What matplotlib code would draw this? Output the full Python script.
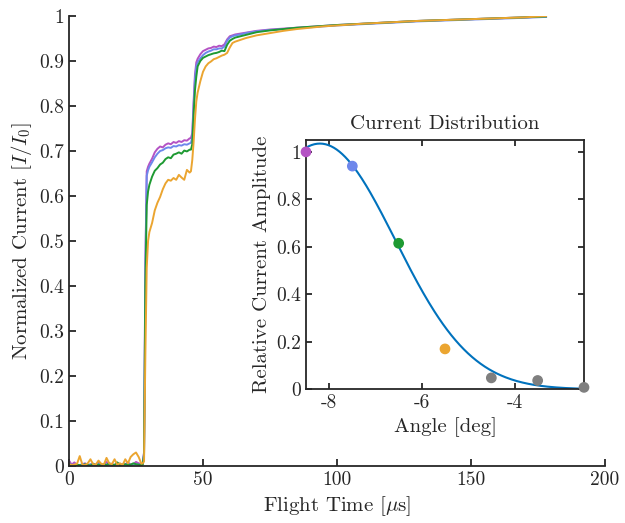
import numpy as np
import matplotlib
matplotlib.use("Agg")
import matplotlib.pyplot as plt
from matplotlib.ticker import FixedLocator, FixedFormatter

plt.rcParams['font.family'] = ['cmr10', 'DejaVu Serif']
plt.rcParams['mathtext.fontset'] = 'cm'
plt.rcParams['axes.unicode_minus'] = False
plt.rcParams['axes.formatter.use_mathtext'] = False

# ---- main traces: flight time [us] and normalized current ----
t_us = [0, 1, 2, 3, 4, 5, 6, 7, 8, 9, 10, 11, 12, 13, 14, 15, 16, 17, 18, 19,
        20, 21, 22, 23, 24, 25, 26, 27,
        27.5, 28, 28.5, 29, 29.5, 30,
        31, 32, 33, 34, 35, 36, 37, 38, 39, 40, 41, 42, 43, 44, 45,
        45.5, 46, 46.5, 47, 47.5, 48,
        49, 50, 51, 52, 53, 54, 55, 56, 57, 58, 59, 60, 61, 62,
        64, 66, 68, 70,
        75, 80, 85, 90, 95, 100, 110, 120, 130, 140, 150, 160, 170, 178]

purple = [0.012, 0.003, 0.008, 0.002, 0.001, 0.004, 0.006, 0.002, 0.003, 0.005,
          0.002, 0.008, 0.004, 0.002, 0.009, 0.003, 0.005, 0.002, 0.007, 0.004,
          0.003, 0.004, 0.008, 0.003, 0.004, 0.009, 0.006, 0.004,
          0.005, 0.03, 0.45, 0.655, 0.665, 0.672,
          0.683, 0.697, 0.705, 0.710, 0.708, 0.714, 0.717, 0.715, 0.720, 0.718,
          0.722, 0.720, 0.724, 0.723, 0.728,
          0.729, 0.740, 0.810, 0.870, 0.897, 0.905,
          0.915, 0.922, 0.925, 0.928, 0.929, 0.932, 0.931, 0.934, 0.933, 0.937,
          0.948, 0.955, 0.957, 0.959,
          0.961, 0.963, 0.965, 0.967,
          0.970, 0.972, 0.974, 0.976, 0.978, 0.980, 0.983, 0.986, 0.989, 0.991,
          0.993, 0.995, 0.997, 0.999]

blue = [0.006, 0.002, 0.003, 0.001, 0.002, 0.004, 0.003, 0.001, 0.004, 0.002,
        0.003, 0.005, 0.002, 0.001, 0.004, 0.002, 0.003, 0.001, 0.004, 0.002,
        0.002, 0.003, 0.005, 0.002, 0.003, 0.004, 0.003, 0.002,
        0.004, 0.03, 0.44, 0.645, 0.657, 0.665,
        0.675, 0.686, 0.694, 0.700, 0.702, 0.706, 0.708, 0.707, 0.711, 0.710,
        0.713, 0.712, 0.715, 0.714, 0.717,
        0.718, 0.730, 0.800, 0.860, 0.888, 0.897,
        0.906, 0.913, 0.918, 0.921, 0.923, 0.926, 0.926, 0.928, 0.928, 0.932,
        0.945, 0.952, 0.955, 0.957,
        0.959, 0.962, 0.964, 0.966,
        0.969, 0.971, 0.973, 0.975, 0.977, 0.979, 0.982, 0.985, 0.988, 0.990,
        0.992, 0.994, 0.996, 0.998]

green = [0.004, 0.002, 0.001, 0.003, 0.002, 0.001, 0.004, 0.002, 0.001, 0.005,
         0.002, 0.003, 0.001, 0.004, 0.002, 0.006, 0.003, 0.002, 0.008, 0.002,
         0.003, 0.004, 0.002, 0.003, 0.006, 0.004, 0.003, 0.002,
         0.003, 0.025, 0.40, 0.580, 0.610, 0.625,
         0.643, 0.656, 0.662, 0.670, 0.674, 0.682, 0.686, 0.684, 0.692, 0.694,
         0.697, 0.694, 0.701, 0.699, 0.703,
         0.703, 0.715, 0.780, 0.835, 0.865, 0.888,
         0.900, 0.907, 0.910, 0.913, 0.915, 0.917, 0.918, 0.920, 0.923, 0.922,
         0.936, 0.945, 0.949, 0.952,
         0.955, 0.958, 0.961, 0.964,
         0.968, 0.971, 0.974, 0.976, 0.978, 0.980, 0.983, 0.986, 0.989, 0.991,
         0.993, 0.995, 0.997, 0.999]

orange = [0.004, 0.002, 0.003, 0.005, 0.022, 0.003, 0.002, 0.006, 0.015, 0.004,
          0.003, 0.012, 0.005, 0.003, 0.018, 0.006, 0.004, 0.015, 0.003, 0.006,
          0.002, 0.015, 0.006, 0.020, 0.026, 0.030, 0.020, 0.005,
          0.006, 0.010, 0.25, 0.440, 0.500, 0.520,
          0.540, 0.568, 0.585, 0.598, 0.615, 0.628, 0.636, 0.634, 0.640, 0.636,
          0.647, 0.641, 0.636, 0.658, 0.652,
          0.655, 0.680, 0.720, 0.770, 0.810, 0.830,
          0.855, 0.876, 0.888, 0.895, 0.899, 0.904, 0.906, 0.909, 0.912, 0.914,
          0.918, 0.930, 0.940, 0.943,
          0.947, 0.951, 0.954, 0.957,
          0.962, 0.967, 0.971, 0.974, 0.977, 0.979, 0.983, 0.986, 0.989, 0.991,
          0.993, 0.995, 0.997, 1.000]

# ---- inset: relative amplitude vs angle ----
angle_deg = [-8.5, -7.5, -6.5, -5.5, -4.5, -3.5, -2.5]
rel_amp = [1.0, 0.94, 0.615, 0.17, 0.048, 0.037, 0.008]
# gaussian fit parameters (amplitude, centre, width)
fit_amp, fit_mu, fit_sigma = 1.035, -8.2, 1.63

c_purple = '#B452C4'
c_blue = '#6E87EB'
c_green = '#1E9A32'
c_orange = '#EBA530'
c_gray = '#7F7F7F'
dot_colors = [c_purple, c_blue, c_green, c_orange, c_gray, c_gray, c_gray]
ax_col = '#262626'

fig = plt.figure(figsize=(6.25, 5.23), dpi=100)
ax = fig.add_axes([0.1104, 0.109, 0.968 - 0.1104, 0.9694 - 0.109])

for y, c in [(purple, c_purple), (blue, c_blue), (green, c_green), (orange, c_orange)]:
    ax.plot(t_us, y, color=c, lw=1.4)

ax.set_xlim(0, 200)
ax.set_ylim(0, 1)
ax.xaxis.set_major_locator(FixedLocator([0, 50, 100, 150, 200]))
yt = [0, 0.1, 0.2, 0.3, 0.4, 0.5, 0.6, 0.7, 0.8, 0.9, 1]
ax.yaxis.set_major_locator(FixedLocator(yt))
ax.yaxis.set_major_formatter(FixedFormatter(['0', '0.1', '0.2', '0.3', '0.4', '0.5',
                                             '0.6', '0.7', '0.8', '0.9', '1']))
for s in ['top', 'right']:
    ax.spines[s].set_visible(False)
for s in ['left', 'bottom']:
    ax.spines[s].set_color(ax_col)
    ax.spines[s].set_linewidth(1.3)
ax.tick_params(direction='in', length=5, width=1.3, colors=ax_col, labelsize=14)
ax.set_xlabel(r'Flight Time [$\mu$s]', fontsize=15, color=ax_col)
ax.set_ylabel(r'Normalized Current $[I/I_0]$', fontsize=15, color=ax_col)

# inset
ins = fig.add_axes([0.4896, 0.2557, 0.9344 - 0.4896, 0.7323 - 0.2557])
xf = np.linspace(angle_deg[0], angle_deg[-1], 200)
yf = fit_amp * np.exp(-(xf - fit_mu) ** 2 / (2 * fit_sigma ** 2))
ins.plot(xf, yf, color='#0072BD', lw=1.5, zorder=2)
ins.scatter(angle_deg, rel_amp, c=dot_colors, s=45, zorder=3, clip_on=False)
ins.set_xlim(-8.5, -2.5)
ins.set_ylim(0, 1.05)
ins.xaxis.set_major_locator(FixedLocator([-8, -6, -4]))
ins.yaxis.set_major_locator(FixedLocator([0, 0.2, 0.4, 0.6, 0.8, 1]))
ins.yaxis.set_major_formatter(FixedFormatter(['0', '0.2', '0.4', '0.6', '0.8', '1']))
for s in ins.spines.values():
    s.set_color(ax_col)
    s.set_linewidth(1.3)
ins.tick_params(direction='in', length=4, width=1.3, colors=ax_col, labelsize=14,
                top=True, right=True)
ins.set_title('Current Distribution', fontsize=15, color=ax_col, pad=8)
ins.set_xlabel('Angle [deg]', fontsize=15, color=ax_col)
ins.set_ylabel('Relative Current Amplitude', fontsize=15, color=ax_col)

fig.savefig('out.png', dpi=100)
